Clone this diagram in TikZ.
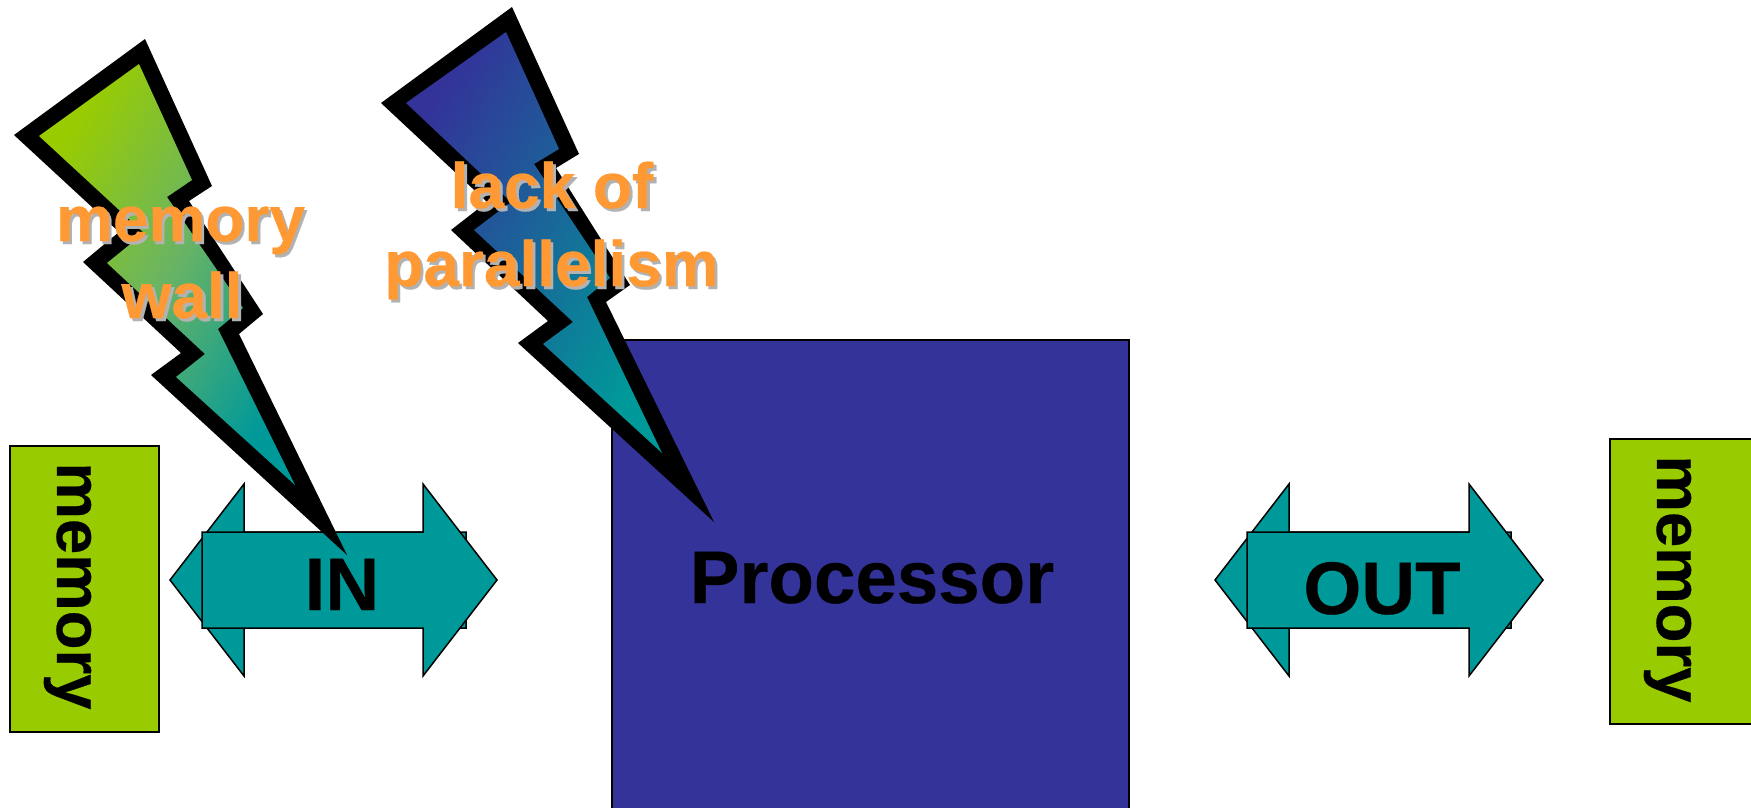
\documentclass[tikz,border=0pt]{standalone}
\usepackage{fontspec}
\setmainfont{Liberation Sans}[BoldFeatures={FakeBold=0.4}]
\definecolor{tealc}{RGB}{0,153,153}
\definecolor{limec}{RGB}{153,204,0}
\definecolor{limemid}{RGB}{105,180,100}
\definecolor{bluec}{RGB}{51,51,153}
\definecolor{orangec}{RGB}{255,153,51}
\definecolor{shadowc}{RGB}{178,178,178}
\tikzset{
  box/.style={draw=black,line width=1.6pt},
  arrowshape/.style={draw=black,line width=1.5pt,fill=tealc,line join=miter},
  boltout/.style={fill=black},
  labelbig/.style={font=\bfseries\fontsize{74.5}{74.5}\selectfont,inner sep=0pt,anchor=base,text=black},
  labelmem/.style={font=\bfseries\fontsize{63.5}{63.5}\selectfont,inner sep=0pt,anchor=base,text=black,rotate=-90},
  labelorange/.style={font=\bfseries\fontsize{64}{64}\selectfont,inner sep=0pt,anchor=base,text=orangec},
  labelshadow/.style={font=\bfseries\fontsize{64}{64}\selectfont,inner sep=0pt,anchor=base,text=shadowc}
}
\begin{document}
\begin{tikzpicture}[x=1pt,y=-1pt]
\useasboundingbox (0,0) rectangle (1751,808);
\begin{scope}
\clip (0,0) rectangle (1751,808);
% memory boxes
\draw[box,fill=limec] (10,446) rectangle (159,732);
\draw[box,fill=limec] (1610,439) rectangle (1760,724);
\node[labelmem] (memL) at (57,586) {memory};
\node[labelmem] (memR) at (1657,579) {memory};
% processor
\draw[box,fill=bluec] (612,340) rectangle (1129,830);
\node[labelbig] (proc) at (872,603) {Processor};
% IN arrows
\draw[arrowshape] (170,580) -- (244,484) -- (244,532) -- (466,532) -- (466,628) -- (244,628) -- (244,676) -- cycle;
\draw[arrowshape] (202,532) -- (423,532) -- (423,484) -- (497,580) -- (423,676) -- (423,628) -- (202,628) -- cycle;
\node[labelbig] (in) at (342,610) {IN};
% OUT arrows
\draw[arrowshape] (1215,580) -- (1289,484) -- (1289,532) -- (1511,532) -- (1511,628) -- (1289,628) -- (1289,676) -- cycle;
\draw[arrowshape] (1247,532) -- (1469,532) -- (1469,484) -- (1543,580) -- (1469,676) -- (1469,628) -- (1247,628) -- cycle;
\node[labelbig] (out) at (1382,614) {OUT};
% bolt 1
\fill[boltout] (145,39) -- (212,186) -- (189,201) -- (263,314) -- (239,334) -- (347,555) -- (151,375) -- (181,353) -- (83,262) -- (119,232) -- (14,135) -- cycle;
\shade[top color=limec,bottom color=tealc,middle color=limemid,shading angle=60] (139,64) -- (192,180) -- (167,197) -- (243,308) -- (218,329) -- (295,485) -- (176,377) -- (205,354) -- (107,263) -- (144,233) -- (39,136) -- cycle;
% bolt 2
\fill[boltout] (512,7) -- (579,154) -- (556,168) -- (630,285) -- (606,302) -- (714,522) -- (518,343) -- (548,321) -- (451,230) -- (487,202) -- (381,103) -- cycle;
\shade[top color=bluec,bottom color=tealc,shading angle=60] (506,32) -- (559,149) -- (534,164) -- (610,278) -- (587,297) -- (662,453) -- (543,344) -- (573,322) -- (474,230) -- (511,202) -- (406,103) -- cycle;
% orange labels
\node[labelshadow] (s1) at (183,244) {memory};
\node[labelshadow] (s2) at (185,321) {wall};
\node[labelshadow] (s3) at (555,211) {lack of};
\node[labelshadow] (s4) at (554,289) {parallelism};
\node[labelorange] (t1) at (180.5,241) {memory};
\node[labelorange] (t2) at (182,318) {wall};
\node[labelorange] (t3) at (552,208) {lack of};
\node[labelorange] (t4) at (551.5,286) {parallelism};
\end{scope}
\end{tikzpicture}
\end{document}
